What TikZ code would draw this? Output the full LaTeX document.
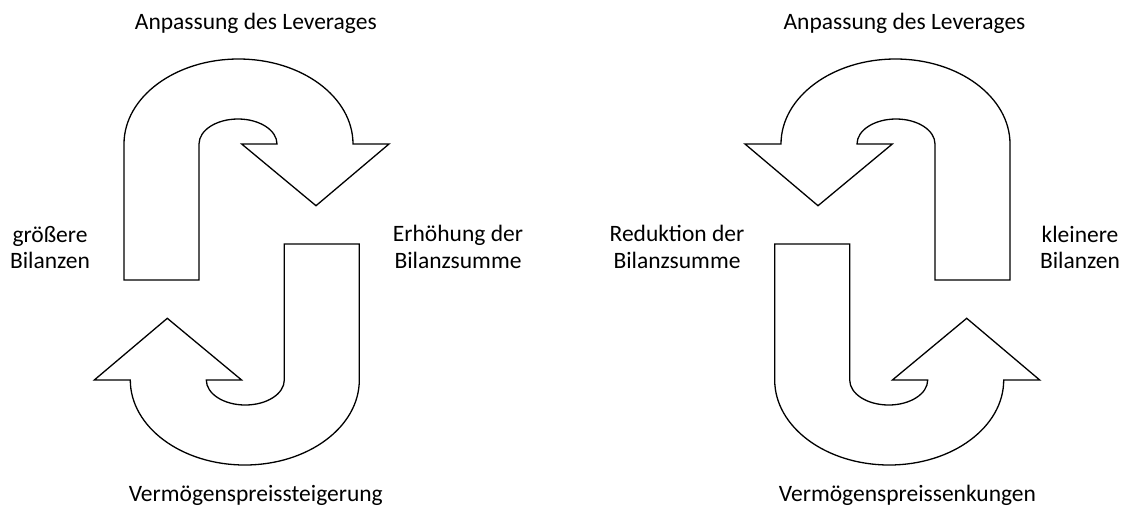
\documentclass[tikz,border=0pt]{standalone}
\usepackage{fontspec}
\setmainfont{Carlito}
\begin{document}
\begin{tikzpicture}[x=1pt,y=1pt,
  uarrow/.style={draw=black, line width=1.3pt, line join=miter, fill=white},
  lbl/.style={inner sep=0pt, align=center, font=\fontsize{23.5}{26.5}\selectfont}]
\useasboundingbox (0,0) rectangle (1126,-509);
\newcommand\drawuturn[1]{%
  \draw[uarrow,#1] (124,-280) -- (124,-144)
    arc[start angle=180,end angle=0,x radius=114.5,y radius=85]
    -- (389,-144) -- (316,-205.7) -- (241.7,-144) -- (277,-144)
    arc[start angle=0,end angle=180,x radius=39,y radius=25]
    -- (199,-280) -- cycle;}
\drawuturn{}
\drawuturn{rotate around={180:(241.65,-262)}}
\drawuturn{xshift=1134pt,xscale=-1}
\drawuturn{xshift=1134pt,xscale=-1,rotate around={180:(241.65,-262)}}
\node[lbl, anchor=base] (lev1) at (255.8,-29) {Anpassung des Leverages};
\node[lbl, anchor=base] (lev2) at (904.5,-29) {Anpassung des Leverages};
\node[lbl, anchor=base] (vpl) at (255.8,-501.5) {Vermögenspreissteigerung};
\node[lbl, anchor=base] (vpr) at (907.5,-501.5) {Vermögenspreissenkungen};
\node[lbl, anchor=base] (gb) at (50,-268.5) {größere\\Bilanzen};
\node[lbl, anchor=base] (eb) at (458,-268.3) {Erhöhung der\\Bilanzsumme};
\node[lbl, anchor=base] (rb) at (677,-268.3) {Reduktion der\\Bilanzsumme};
\node[lbl, anchor=base] (kb) at (1080,-268.5) {kleinere\\Bilanzen};
\end{tikzpicture}
\end{document}
